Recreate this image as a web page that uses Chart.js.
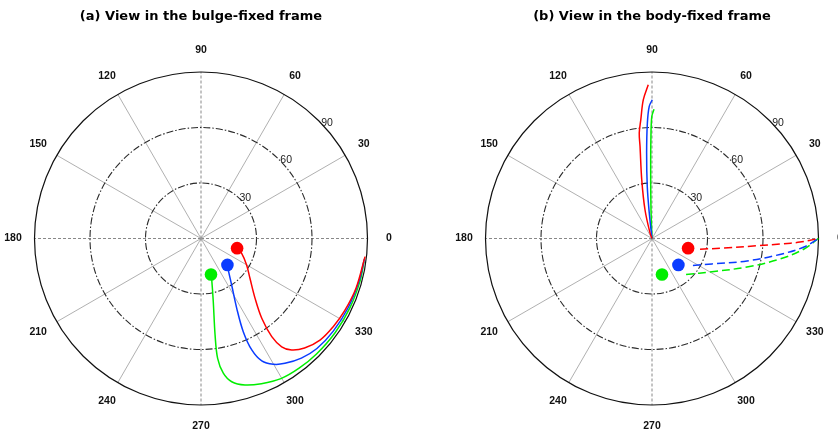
<!DOCTYPE html>
<html>
<head>
<meta charset="utf-8">
<script src="https://cdn.jsdelivr.net/npm/chart.js@4.4.1/dist/chart.umd.min.js"></script>
<style>
  html, body { margin: 0; padding: 0; background: #fff; width: 838px; height: 431px; overflow: hidden; }
  canvas { position: absolute; top: 0; }
  #bulgeFrame { left: 0; }
  #bodyFrame { left: 419px; }
</style>
</head>
<body>
<canvas id="bulgeFrame" width="419" height="431"></canvas>
<canvas id="bodyFrame" width="419" height="431"></canvas>
<script>
// Polar grid: radial rings and angular spokes (degrees)
const ringValues = [30, 60, 90];
const spokeAngles = [0, 30, 60, 90, 120, 150, 180, 210, 240, 270, 300, 330];
const angleLabels = ['0', '30', '60', '90', '120', '150', '180', '210', '240', '270', '300', '330'];

// Starting positions of the three particles (angle deg, radius)
const startTheta = [-15, -45, -74.5];
const startR = [20.2, 20.2, 20.2];

// Trajectories seen in the bulge-fixed frame
const bulgeRedTheta = [-15, -20, -30.1, -39.1, -47.9, -52.7, -54.2, -53.3, -50.9, -46.6, -40.5, -33.7, -26.9, -17.8, -6.3];
const bulgeRedR     = [20.2, 23.4, 28.5, 34.1, 43.6, 54.2, 65.4, 73.0, 77.7, 81.5, 84.6, 85.9, 86.9, 88.0, 89.2];
const bulgeBlueTheta = [-45, -49.1, -56.6, -62.9, -65.6, -65.5, -63.6, -60.1, -56.1, -50.0, -43.5, -35, -25, -15, -7.2];
const bulgeBlueR     = [20.2, 22.5, 30.1, 42.4, 55.3, 66.2, 73.9, 78.4, 81.3, 84.4, 86.4, 87.3, 87.9, 88.5, 89.0];
const bulgeGreenTheta = [-74.5, -75.5, -79.0, -81.7, -82.1, -80.6, -77.9, -73.3, -67.4, -60.3, -52.9, -45, -35, -25, -15, -8.1];
const bulgeGreenR     = [20.2, 23.2, 34.8, 52.7, 65.4, 73.8, 79.2, 82.7, 85.0, 87.2, 87.9, 88.3, 88.6, 88.8, 89.0, 89.0];

// Trajectories seen in the body-fixed frame (solid: outgoing, dashed: returning)
const bodyRedTheta = [110, 110, 103.7, 99.9, 97.4, 96.9, 95.4, 93.6, 91.4];
const bodyRedR     = [0, 3.1, 16.0, 32.2, 50.2, 57.4, 64.4, 75.1, 83.1];
const bodyBlueTheta = [97, 96.1, 95.2, 93.6, 92.3, 91.2, 89.9];
const bodyBlueR     = [0, 13.8, 28.2, 46.3, 62.4, 71.4, 75.0];
const bodyGreenTheta = [92, 92, 91.1, 90.6, 90.1, 89.1];
const bodyGreenR     = [0, 15.5, 37.1, 55.1, 65.9, 69.9];

const bodyRedDashTheta = [-12.5, -7.7, -4.0, -2.4, -1.4, 0];
const bodyRedDashR     = [26.6, 38.9, 56.7, 70.0, 80.0, 90];
const bodyBlueDashTheta = [-33.4, -23.0, -13.3, -7.1, -3.2, 0];
const bodyBlueDashR     = [26.5, 35.2, 52.8, 69.7, 82.3, 90];
const bodyGreenDashTheta = [-46.6, -29.0, -16.7, -9.1, -3.95, 0];
const bodyGreenDashR     = [26.8, 37.1, 53.6, 70.1, 82.4, 90];

const RED = '#ff0000', BLUE = '#0a3cff', GREEN = '#00ee00';

function toXY(thetaArr, rArr) {
  return thetaArr.map((t, i) => {
    const a = t * Math.PI / 180;
    return { x: rArr[i] * Math.cos(a), y: rArr[i] * Math.sin(a) };
  });
}

// Draws the polar frame (spokes, rings, labels) and the panel title
const polarFrame = {
  id: 'polarFrame',
  beforeDatasetsDraw(chart, args, opts) {
    const ctx = chart.ctx;
    const xs = chart.scales.x, ys = chart.scales.y;
    const cx = xs.getPixelForValue(0), cy = ys.getPixelForValue(0);
    const unit = xs.getPixelForValue(1) - cx;
    const rMax = ringValues[ringValues.length - 1];
    const R = rMax * unit;
    ctx.save();

    // spokes
    spokeAngles.forEach(a => {
      const rad = a * Math.PI / 180;
      const major = a % 90 === 0;
      ctx.beginPath();
      ctx.setLineDash(major ? [3, 2] : []);
      ctx.strokeStyle = major ? '#888888' : '#9c9c9c';
      ctx.lineWidth = major ? 1 : 0.8;
      ctx.moveTo(cx, cy);
      ctx.lineTo(cx + R * Math.cos(rad), cy - R * Math.sin(rad));
      ctx.stroke();
    });

    // rings
    ringValues.forEach(v => {
      const outer = v === rMax;
      ctx.beginPath();
      ctx.setLineDash(outer ? [] : [7, 2, 1.5, 2]);
      ctx.strokeStyle = outer ? '#111' : '#2a2a2a';
      ctx.lineWidth = outer ? 1.2 : 1.1;
      ctx.arc(cx, cy, v * unit, 0, Math.PI * 2);
      ctx.stroke();
    });
    ctx.setLineDash([]);

    // radial value labels
    ctx.fillStyle = '#222';
    ctx.font = '10.5px "Liberation Sans", Arial, sans-serif';
    ctx.textAlign = 'center';
    ctx.textBaseline = 'middle';
    const la = 42.5 * Math.PI / 180;
    ringValues.forEach(v => {
      const rr = v * unit + 4.5;
      ctx.fillText(String(v), cx + rr * Math.cos(la), cy - rr * Math.sin(la));
    });

    // angle labels
    ctx.fillStyle = '#111';
    ctx.font = 'bold 10.5px "Liberation Sans", Arial, sans-serif';
    spokeAngles.forEach((a, i) => {
      const rad = a * Math.PI / 180;
      const rr = R + 21.5;
      ctx.fillText(angleLabels[i], cx + rr * Math.cos(rad), cy - rr * Math.sin(rad));
    });

    // title
    ctx.fillStyle = '#000';
    ctx.font = 'bold 13px "DejaVu Sans", sans-serif';
    ctx.fillText(opts.title, cx, 17);
    ctx.restore();
  }
};

function line(points, color, dashed) {
  return {
    data: points, showLine: true, borderColor: color, borderWidth: 1.5,
    pointRadius: 0, tension: 0.35, fill: false, clip: false,
    borderDash: dashed ? [8, 4] : []
  };
}

function markers() {
  return {
    data: toXY(startTheta, startR), showLine: false, pointRadius: 6.3,
    pointBorderWidth: 0, pointBackgroundColor: [RED, BLUE, GREEN],
    pointBorderColor: [RED, BLUE, GREEN], clip: false
  };
}

function makeChart(id, title, datasets, padding) {
  return new Chart(document.getElementById(id), {
    type: 'scatter',
    data: { datasets },
    options: {
      responsive: false, animation: false, devicePixelRatio: 1, events: [],
      layout: { padding },
      scales: {
        x: { type: 'linear', min: -90, max: 90, display: false },
        y: { type: 'linear', min: -90, max: 90, display: false }
      },
      plugins: { legend: { display: false }, tooltip: { enabled: false }, polarFrame: { title } }
    },
    plugins: [polarFrame]
  });
}

makeChart('bulgeFrame', '(a) View in the bulge-fixed frame', [
  markers(),
  line(toXY(bulgeRedTheta, bulgeRedR), RED),
  line(toXY(bulgeBlueTheta, bulgeBlueR), BLUE),
  line(toXY(bulgeGreenTheta, bulgeGreenR), GREEN)
], { left: 34.5, right: 51.5, top: 72, bottom: 26 });

makeChart('bodyFrame', '(b) View in the body-fixed frame', [
  markers(),
  line(toXY(bodyRedTheta, bodyRedR), RED),
  line(toXY(bodyBlueTheta, bodyBlueR), BLUE),
  line(toXY(bodyGreenTheta, bodyGreenR), GREEN),
  line(toXY(bodyRedDashTheta, bodyRedDashR), RED, true),
  line(toXY(bodyBlueDashTheta, bodyBlueDashR), BLUE, true),
  line(toXY(bodyGreenDashTheta, bodyGreenDashR), GREEN, true)
], { left: 66.5, right: 19.5, top: 72, bottom: 26 });
</script>
</body>
</html>
